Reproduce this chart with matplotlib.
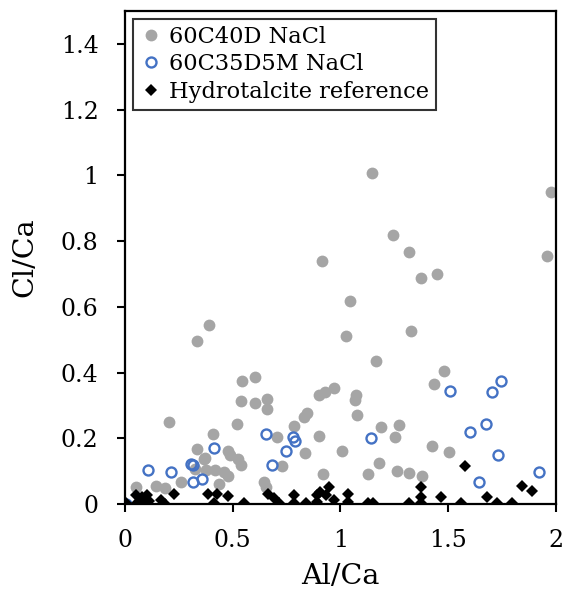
import matplotlib
matplotlib.use("Agg")
import matplotlib.pyplot as plt

# 60C40D NaCl (grey filled circles)
grey_x = [1.147, 1.977, 1.242, 1.319, 1.373, 1.45, 1.042, 1.96, 0.913, 0.389, 0.333, 1.327,
          1.024, 1.167, 1.482, 1.436, 0.545, 0.605, 0.539, 0.604, 0.661, 0.661, 0.203, 0.519,
          0.409, 0.332, 0.476, 0.488, 0.525, 0.365, 0.54, 0.323, 0.378, 0.419, 0.461, 0.476,
          0.261, 0.435, 0.049, 0.146, 0.187, 0.645, 0.653, 0.899, 0.93, 0.968, 1.072, 1.068,
          1.078, 0.845, 0.833, 0.783, 0.707, 0.902, 1.19, 1.27, 1.252, 0.837, 1.006, 0.73,
          1.18, 1.263, 1.129, 0.918, 1.425, 1.502, 1.318, 1.379, 0.373]
grey_y = [1.007, 0.949, 0.817, 0.767, 0.689, 0.701, 0.619, 0.755, 0.739, 0.545, 0.497, 0.527,
          0.51, 0.434, 0.406, 0.364, 0.374, 0.386, 0.312, 0.308, 0.32, 0.29, 0.251, 0.244,
          0.212, 0.166, 0.161, 0.148, 0.138, 0.138, 0.118, 0.108, 0.105, 0.103, 0.098, 0.086,
          0.068, 0.061, 0.052, 0.055, 0.05, 0.068, 0.052, 0.333, 0.34, 0.354, 0.333, 0.315,
          0.27, 0.277, 0.265, 0.236, 0.204, 0.207, 0.234, 0.239, 0.204, 0.154, 0.162, 0.115,
          0.126, 0.1, 0.09, 0.091, 0.176, 0.158, 0.095, 0.085, 0.139]

# 60C35D5M NaCl (blue open circles)
blue_x = [0.003, 0.108, 0.215, 0.305, 0.318, 0.315, 0.358, 0.412, 0.653, 0.78, 0.791, 0.748,
          0.683, 1.14, 1.51, 1.702, 1.745, 1.674, 1.602, 1.731, 1.644, 1.922]
blue_y = [0.0, 0.103, 0.098, 0.121, 0.118, 0.068, 0.076, 0.171, 0.212, 0.204, 0.192, 0.162,
          0.118, 0.202, 0.345, 0.342, 0.374, 0.242, 0.219, 0.148, 0.068, 0.098]

# Hydrotalcite reference (black diamonds)
ht_x = [0.003, 0.049, 0.077, 0.103, 0.054, 0.084, 0.11, 0.169, 0.184, 0.227, 0.384, 0.427,
        0.476, 0.412, 0.553, 0.664, 0.691, 0.714, 0.783, 0.783, 0.842, 0.891, 0.906, 0.945,
        0.934, 0.968, 1.037, 1.037, 1.129, 1.152, 0.891, 1.579, 1.375, 1.375, 1.375, 1.318,
        1.467, 1.559, 1.682, 1.728, 1.797, 1.843, 1.889]
ht_y = [0.002, 0.027, 0.022, 0.027, 0.002, 0.002, 0.01, 0.012, 0.0, 0.029, 0.03, 0.03,
        0.025, 0.002, 0.002, 0.03, 0.017, 0.002, 0.027, 0.002, 0.002, 0.027, 0.037, 0.052,
        0.027, 0.012, 0.03, 0.007, 0.002, 0.002, 0.007, 0.115, 0.052, 0.022, 0.002, 0.002,
        0.02, 0.002, 0.02, 0.002, 0.002, 0.055, 0.04]

plt.rcParams['font.family'] = ['DejaVu Serif']

fig = plt.figure(figsize=(5.68, 5.92), dpi=100)
ax = fig.add_axes([0.22, 0.1486, 0.7589, 0.8328])

ax.plot(grey_x, grey_y, 'o', color='#A5A5A5', markersize=8.5, markeredgewidth=0,
        label='60C40D NaCl')
ax.plot(blue_x, blue_y, 'o', markerfacecolor='none', markeredgecolor='#4472C4',
        markersize=7.2, markeredgewidth=1.7, label='60C35D5M NaCl')
ax.plot(ht_x, ht_y, 'D', color='black', markersize=6.5, markeredgewidth=0,
        label='Hydrotalcite reference')

ax.set_xlim(0, 2)
ax.set_ylim(0, 1.5)
ax.set_xticks([0, 0.5, 1, 1.5, 2])
ax.set_xticklabels(['0', '0.5', '1', '1.5', '2'])
ax.set_yticks([0, 0.2, 0.4, 0.6, 0.8, 1, 1.2, 1.4])
ax.set_yticklabels(['0', '0.2', '0.4', '0.6', '0.8', '1', '1.2', '1.4'])
ax.tick_params(direction='out', length=6, width=1.5, labelsize=17)
ax.tick_params(axis='x', pad=12)
ax.tick_params(axis='y', pad=13)

for s in ax.spines.values():
    s.set_linewidth(1.6)

ax.set_xlabel('Al/Ca', fontsize=20.5)
ax.set_ylabel('Cl/Ca', fontsize=20.5)
ax.xaxis.label.set_va('center')
ax.yaxis.label.set_va('center')
ax.xaxis.set_label_coords(0.5, -0.146)
ax.yaxis.set_label_coords(-0.232, 0.5)

leg = ax.legend(loc='upper left', fontsize=16.2, frameon=True, fancybox=False,
                handletextpad=0.3, handlelength=1.0, borderpad=0.3, labelspacing=0.25,
                borderaxespad=0.35)
leg.get_frame().set_edgecolor('black')
leg.get_frame().set_linewidth(1.5)

fig.savefig('out.png', dpi=100)
